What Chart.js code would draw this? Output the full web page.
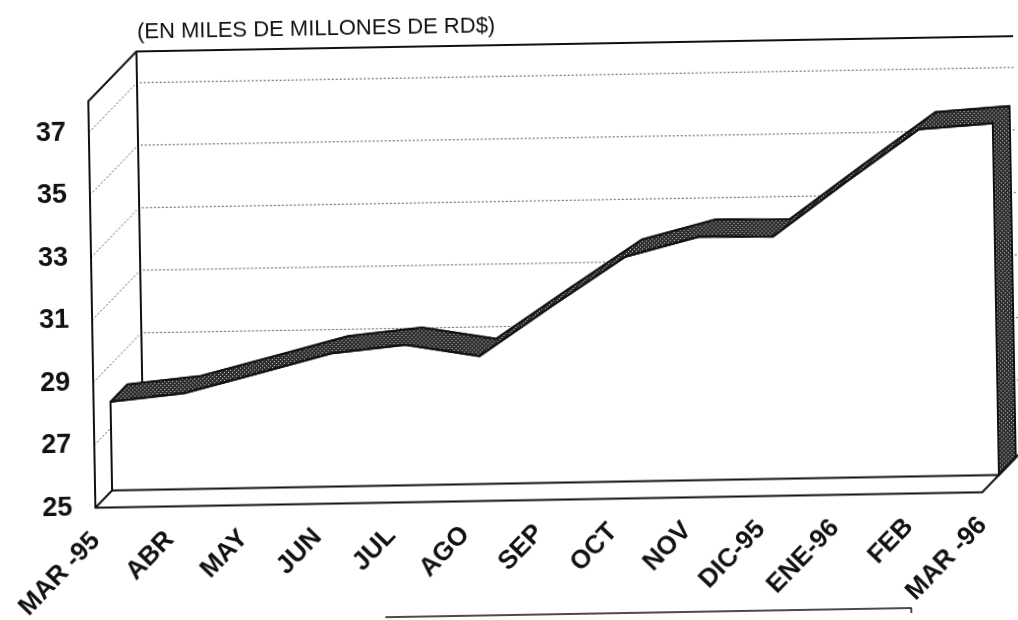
<!DOCTYPE html>
<html>
<head>
<meta charset="utf-8">
<script src="https://cdn.jsdelivr.net/npm/chart.js@4.4.1/dist/chart.umd.min.js"></script>
<style>
    html, body { margin: 0; padding: 0; background: #fff; overflow: hidden; }
    /* the scanned page sits about one degree off level */
    #wrap { width: 1018px; height: 620px; transform: rotate(-1deg); transform-origin: 509px 310px; }
</style>
</head>
<body>
<div id="wrap"><canvas id="chart" width="1018" height="620"></canvas></div>
<script>
const categories = [ 'MAR -95', 'ABR', 'MAY', 'JUN', 'JUL', 'AGO', 'SEP', 'OCT', 'NOV', 'DIC-95', 'ENE-96', 'FEB', 'MAR -96' ];
const values = [ 27.84, 28.07, 28.66, 29.26, 29.49, 29.09, 30.66, 32.19, 32.79, 32.75, 34.45, 36.10, 36.25 ];
const yTicks = [ 25, 27, 29, 31, 33, 35, 37 ];
const yMin = 25;
const yMax = 38;
const unitLabel = '(EN MILES DE MILLONES DE RD$)';

// depth of the 3D box and of the two faces of the area, in px
const WALL = 49;
const FACE = 17;
const BACK = 34;

function makeStipple()
{
    const c = document.createElement( 'canvas' );
    c.width = 4;
    c.height = 4;
    const g = c.getContext( '2d' );
    g.fillStyle = '#2e2e2e';
    g.fillRect( 0, 0, 4, 4 );
    g.fillStyle = '#c8c8c8';
    g.fillRect( 1, 1, 1, 1 );
    g.fillRect( 3, 3, 1, 1 );
    return g.createPattern( c, 'repeat' );
}
const stipple = makeStipple();

// walls, floor, dotted gridlines, title
const box3d = {
    id: 'box3d',
    beforeDatasetsDraw( chart )
    {
        const { ctx, scales: { x, y } } = chart;
        const x0 = x.getPixelForValue( 0 );
        const x1 = x.getPixelForValue( categories.length - 1 );
        const yb = y.getPixelForValue( yMin );
        const yt = y.getPixelForValue( yMax );
        const W = chart.width;

        ctx.save();
        ctx.strokeStyle = '#555';
        ctx.lineWidth = 1;
        ctx.setLineDash( [ 2, 2 ] );
        yTicks.slice( 1 ).forEach( v =>
        {
            const py = y.getPixelForValue( v );
            ctx.beginPath();
            ctx.moveTo( x0, py );
            ctx.lineTo( x0 + WALL, py - WALL );
            ctx.lineTo( W, py - WALL );
            ctx.stroke();
        } );
        ctx.setLineDash( [] );

        ctx.strokeStyle = '#111';
        ctx.lineWidth = 2;
        ctx.lineJoin = 'round';
        ctx.beginPath();
        ctx.moveTo( x0, yb );
        ctx.lineTo( x0, yt );
        ctx.lineTo( x0 + WALL, yt - WALL );
        ctx.lineTo( W, yt - WALL );
        ctx.moveTo( x0 + WALL, yt - WALL );
        ctx.lineTo( x0 + WALL, yb - WALL );
        ctx.lineTo( x0, yb );
        ctx.lineTo( x1, yb );
        ctx.lineTo( x1 + WALL, yb - WALL );
        ctx.stroke();

        ctx.fillStyle = '#111';
        ctx.font = '22px Arial';
        ctx.textBaseline = 'alphabetic';
        ctx.fillText( unitLabel, x0 + WALL + 1, yt - WALL - 13 );

        // edge of a box below the chart
        ctx.lineWidth = 1.5;
        ctx.beginPath();
        ctx.moveTo( 380, chart.height - 5 );
        ctx.lineTo( 906, chart.height - 5 );
        ctx.lineTo( 906, chart.height );
        ctx.stroke();
        ctx.restore();
    }
};

// each copy of the series is pushed back into the box and filled by hand;
// the back copy also carries the slanted ends that join it to the front face
const depthShift = {
    id: 'depthShift',
    beforeDatasetDraw( chart, args )
    {
        const ds = chart.data.datasets[ args.index ];
        const { ctx } = chart;
        const pts = args.meta.data;
        const base = chart.scales.y.getPixelForValue( yMin );
        const first = pts[ 0 ];
        const last = pts[ pts.length - 1 ];
        const step = ds.depth - FACE;
        ctx.save();
        ctx.translate( ds.depth, -ds.depth );
        ctx.beginPath();
        if ( step > 0 ) {
            ctx.moveTo( first.x - step, first.y + step );
        } else {
            ctx.moveTo( first.x, base );
        }
        pts.forEach( p => ctx.lineTo( p.x, p.y ) );
        ctx.lineTo( last.x, base );
        if ( step > 0 ) ctx.lineTo( last.x - step, base + step );
        ctx.closePath();
        ctx.fillStyle = ds.faceColor;
        ctx.fill();
        ctx.strokeStyle = '#111';
        ctx.lineWidth = 2;
        ctx.lineJoin = 'round';
        ctx.stroke();
    },
    afterDatasetDraw( chart )
    {
        chart.ctx.restore();
    }
};

new Chart( document.getElementById( 'chart' ), {
    type: 'line',
    data: {
        labels: categories,
        datasets: [
            {
                data: values,
                depth: FACE,
                faceColor: '#fff',
                fill: false,
                borderColor: '#111',
                borderWidth: 2,
                pointRadius: 0,
                tension: 0,
                order: 1,
                clip: false
            },
            {
                data: values,
                depth: BACK,
                faceColor: stipple,
                fill: false,
                borderColor: '#111',
                borderWidth: 1.5,
                pointRadius: 0,
                tension: 0,
                order: 2,
                clip: false
            }
        ]
    },
    options: {
        responsive: false,
        animation: false,
        events: [],
        layout: { padding: { top: 94, right: 39, left: 0, bottom: 0 } },
        plugins: {
            legend: { display: false },
            tooltip: { enabled: false }
        },
        scales: {
            x: {
                grid: { display: false },
                border: { display: false },
                ticks: {
                    autoSkip: false,
                    minRotation: 45,
                    maxRotation: 45,
                    padding: 10,
                    color: '#111',
                    font: { family: 'Arial', size: 26, weight: 'bold' }
                },
                afterFit: s => { s.height = 119.5; }
            },
            y: {
                min: yMin,
                max: yMax,
                grid: { display: false },
                border: { display: false },
                afterBuildTicks: s => { s.ticks = yTicks.map( v => ( { value: v } ) ); },
                ticks: {
                    padding: 15,
                    color: '#111',
                    font: { family: 'Arial', size: 27, weight: 'bold' }
                },
                afterFit: s => { s.width = 92; }
            }
        }
    },
    plugins: [ box3d, depthShift ]
} );
</script>
</body>
</html>
